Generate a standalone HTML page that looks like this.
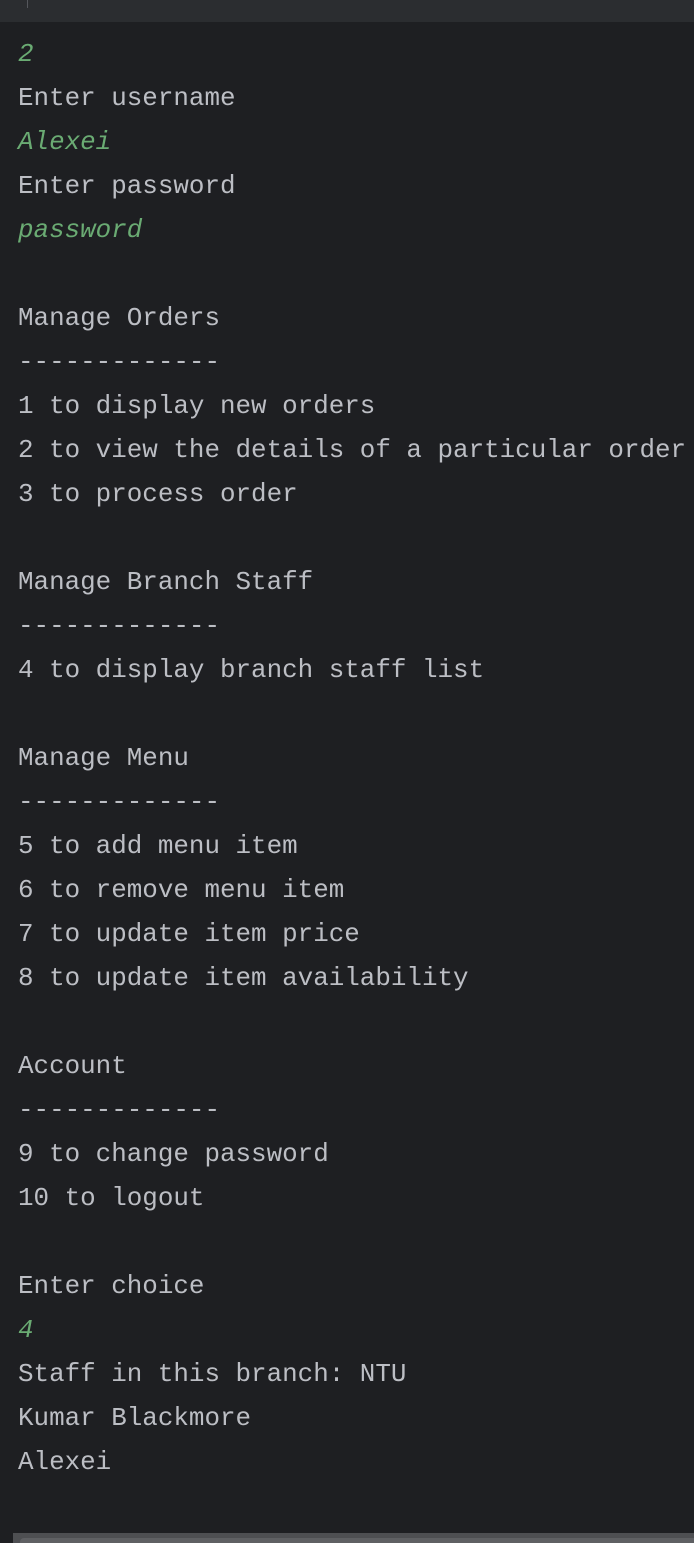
<!DOCTYPE html>
<html><head><style>
body{margin:0;width:694px;height:1543px;background:#1e1f22;overflow:hidden;position:relative}
.bar{position:absolute;left:0;top:0;width:694px;height:22px;background:#2b2d30}
.sep{position:absolute;left:27px;top:0;width:1px;height:8px;background:#55575c}
pre{position:absolute;left:18px;top:32px;margin:0;font-family:"Liberation Mono",monospace;font-size:25.9px;line-height:44px;color:#bcbec4}
.g{color:#6aab73;font-style:italic}
.sb{position:absolute;left:13px;top:1533px;width:681px;height:10px;background:#4e4f52}
.sb2{position:absolute;left:20px;top:1538px;width:674px;height:5px;background:#5f6063;border-radius:4px 0 0 0}
</style></head><body>
<div class="bar"></div><div class="sep"></div>
<pre><span class="g">2</span>
Enter username
<span class="g">Alexei</span>
Enter password
<span class="g">password</span>

Manage Orders
-------------
1 to display new orders
2 to view the details of a particular order
3 to process order

Manage Branch Staff
-------------
4 to display branch staff list

Manage Menu
-------------
5 to add menu item
6 to remove menu item
7 to update item price
8 to update item availability

Account
-------------
9 to change password
10 to logout

Enter choice
<span class="g">4</span>
Staff in this branch: NTU
Kumar Blackmore
Alexei</pre>
<div class="sb"></div><div class="sb2"></div>
</body></html>
